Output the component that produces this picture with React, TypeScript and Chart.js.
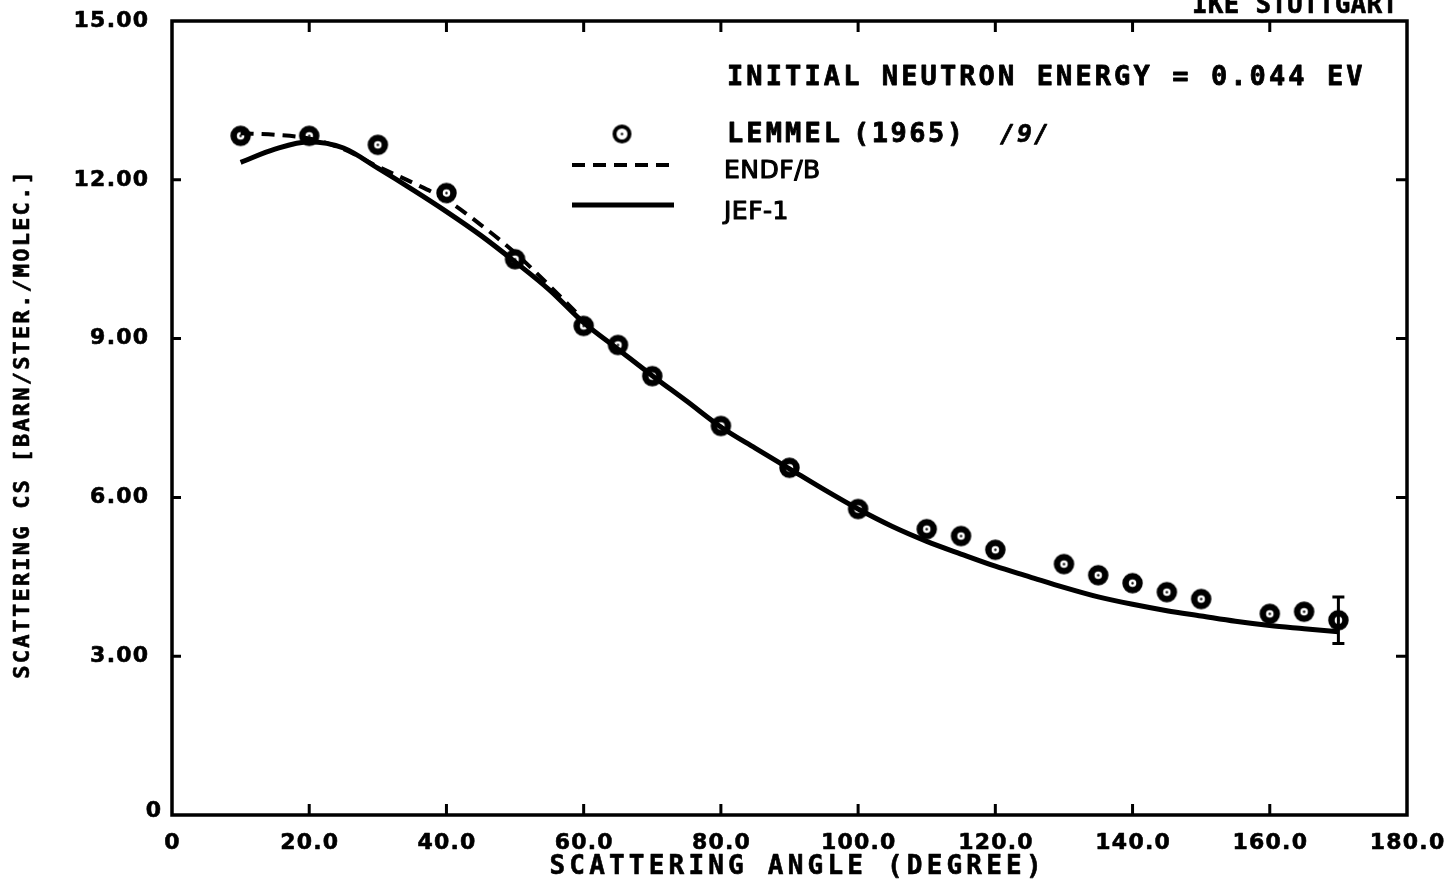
import { useEffect, useRef } from "react";
import { Chart, registerables } from "chart.js";

Chart.register(...registerables);

// Measured differential scattering cross section (Lemmel 1965)
const lemmelAngle = [10, 20, 30, 40, 50, 60, 65, 70, 80, 90, 100, 110, 115, 120, 130, 135, 140, 145, 150, 160, 165, 170];
const lemmelCs = [12.83, 12.83, 12.66, 11.75, 10.5, 9.24, 8.88, 8.29, 7.35, 6.56, 5.78, 5.4, 5.27, 5.01, 4.74, 4.53, 4.38, 4.21, 4.08, 3.8, 3.84, 3.68];
const lemmelErr = [0, 0, 0, 0, 0, 0, 0, 0, 0, 0, 0, 0, 0, 0, 0, 0, 0, 0, 0, 0, 0, 0.44];

// ENDF/B evaluation (forward angles, where it separates from JEF-1)
const endfAngle = [10, 15, 20, 25, 30, 35, 40, 45, 50, 55, 60];
const endfCs = [12.88, 12.85, 12.78, 12.58, 12.25, 11.95, 11.62, 11.15, 10.62, 10.0, 9.35];

// JEF-1 evaluation
const jefAngle = [10, 15, 20, 25, 30, 35, 40, 45, 50, 55, 60, 65, 70, 75, 80, 85, 90, 95, 100, 105, 110, 115, 120, 125, 130, 135, 140, 145, 150, 155, 160, 165, 170];
const jefCs = [12.33, 12.58, 12.72, 12.6, 12.22, 11.82, 11.4, 10.95, 10.45, 9.92, 9.3, 8.8, 8.3, 7.82, 7.33, 6.93, 6.54, 6.15, 5.78, 5.45, 5.17, 4.93, 4.7, 4.5, 4.3, 4.12, 3.98, 3.86, 3.76, 3.66, 3.58, 3.52, 3.46];

const xTickValues = [0, 20, 40, 60, 80, 100, 120, 140, 160, 180];
const xTickLabels = ["0", "20.0", "40.0", "60.0", "80.0", "100.0", "120.0", "140.0", "160.0", "180.0"];
const yTickValues = [0, 3, 6, 9, 12, 15];
const yTickLabels = ["0", "3.00", "6.00", "9.00", "12.00", "15.00"];

const MONO = '"DejaVu Sans Mono"';
const SANS = '"DejaVu Sans"';

// Text with an optional outline stroke, giving the heavy pen look of a plotter
function drawText(
  ctx: CanvasRenderingContext2D,
  s: string,
  x: number,
  y: number,
  font: string,
  spacing: number,
  align: CanvasTextAlign = "left",
  baseline: CanvasTextBaseline = "middle",
  pen = 0
) {
  ctx.save();
  ctx.font = font;
  (ctx as any).letterSpacing = spacing + "px";
  ctx.textAlign = align;
  ctx.textBaseline = baseline;
  ctx.fillStyle = "#000";
  ctx.strokeStyle = "#000";
  ctx.lineJoin = "round";
  let dx = 0;
  if (align === "right") dx = spacing;
  if (align === "center") dx = spacing / 2;
  ctx.fillText(s, x + dx, y);
  if (pen > 0) {
    ctx.lineWidth = pen;
    ctx.strokeText(s, x + dx, y);
  }
  ctx.restore();
}

function makeMarker(r: number, lw: number): HTMLCanvasElement {
  const c = document.createElement("canvas");
  const size = Math.ceil(2 * r + lw + 2);
  c.width = size;
  c.height = size;
  const g = c.getContext("2d")!;
  const m = size / 2;
  g.beginPath();
  g.arc(m, m, r, 0, Math.PI * 2);
  g.fillStyle = "#fff";
  g.fill();
  g.lineWidth = lw;
  g.strokeStyle = "#000";
  g.stroke();
  g.beginPath();
  g.arc(m, m, 1.2, 0, Math.PI * 2);
  g.fillStyle = "#000";
  g.fill();
  return c;
}

export default function App() {
  const canvasRef = useRef<HTMLCanvasElement | null>(null);

  useEffect(() => {
    const canvas = canvasRef.current;
    if (!canvas) return;
    const marker = makeMarker(7, 6.5);
    const legendMarker = makeMarker(7.5, 4);

    const decorations = {
      id: "plotterDecor",
      afterDatasetsDraw(chart: any) {
        const ctx: CanvasRenderingContext2D = chart.ctx;
        const xs = chart.scales.x;
        const ys = chart.scales.y;
        // error bars
        ctx.save();
        ctx.strokeStyle = "#000";
        ctx.lineWidth = 3;
        lemmelErr.forEach((e, i) => {
          if (!e) return;
          const px = xs.getPixelForValue(lemmelAngle[i]);
          const top = ys.getPixelForValue(lemmelCs[i] + e);
          const bot = ys.getPixelForValue(lemmelCs[i] - e);
          ctx.beginPath();
          ctx.moveTo(px, top);
          ctx.lineTo(px, bot);
          ctx.moveTo(px - 6, top);
          ctx.lineTo(px + 6, top);
          ctx.moveTo(px - 6, bot);
          ctx.lineTo(px + 6, bot);
          ctx.stroke();
        });
        ctx.restore();
      },
      afterDraw(chart: any) {
        const ctx: CanvasRenderingContext2D = chart.ctx;
        const { left, right, top, bottom } = chart.chartArea;
        const xs = chart.scales.x;
        const ys = chart.scales.y;
        const tickLen = 11;

        // frame
        ctx.save();
        ctx.strokeStyle = "#000";
        ctx.lineWidth = 3.5;
        ctx.lineCap = "square";
        ctx.strokeRect(left, top, right - left, bottom - top);

        // inward ticks on all four sides
        ctx.lineWidth = 3;
        ctx.lineCap = "butt";
        ctx.beginPath();
        xTickValues.forEach((v) => {
          const px = xs.getPixelForValue(v);
          if (v === 0 || v === 180) return;
          ctx.moveTo(px, bottom);
          ctx.lineTo(px, bottom - tickLen);
          ctx.moveTo(px, top);
          ctx.lineTo(px, top + tickLen);
        });
        yTickValues.forEach((v) => {
          const py = ys.getPixelForValue(v);
          if (v === 0 || v === 15) return;
          ctx.moveTo(left, py);
          ctx.lineTo(left + tickLen - 2, py);
          ctx.moveTo(right, py);
          ctx.lineTo(right - tickLen, py);
        });
        ctx.stroke();
        ctx.restore();

        // tick labels
        const tickFont = `bold 22px ${SANS}`;
        xTickValues.forEach((v, i) => {
          drawText(ctx, xTickLabels[i], xs.getPixelForValue(v), bottom + 28, tickFont, 1.2, "center", "middle", 0.6);
        });
        yTickValues.forEach((v, i) => {
          const py = ys.getPixelForValue(v);
          if (v === 0) {
            drawText(ctx, yTickLabels[i], left - 11, py - 4, tickFont, 1.2, "right", "middle", 0.6);
          } else {
            drawText(ctx, yTickLabels[i], left - 24, py, tickFont, 1.2, "right", "middle", 0.6);
          }
        });

        // axis titles
        drawText(ctx, "SCATTERING ANGLE (DEGREE)", (left + right) / 2 + 6, bottom + 52, `bold 26px ${MONO}`, 4.2, "center", "middle", 0.6);
        ctx.save();
        ctx.translate(23, 425);
        ctx.rotate(-Math.PI / 2);
        drawText(ctx, "SCATTERING CS [BARN/STER./MOLEC.]", 0, 0, `bold 22px ${MONO}`, 2.2, "center", "middle", 0.6);
        ctx.restore();

        // header and annotations
        drawText(ctx, "IKE STUTTGART", 1192, 13, `bold 26px ${MONO}`, 0.2, "left", "alphabetic", 0.6);
        drawText(ctx, "INITIAL NEUTRON ENERGY = 0.044 EV", 727, 78, `bold 27px ${MONO}`, 3.1, "left", "middle", 0.8);

        // legend
        ctx.drawImage(legendMarker, 622 - legendMarker.width / 2, 134 - legendMarker.height / 2);
        drawText(ctx, "LEMMEL", 727, 135, `bold 27px ${MONO}`, 3.1, "left", "middle", 0.8);
        drawText(ctx, "(1965)", 853, 135, `bold 27px ${MONO}`, 2.5, "left", "middle", 0.8);
        drawText(ctx, "/9/", 1000, 135, `italic bold 25px ${MONO}`, 2, "left", "middle", 0.6);

        ctx.save();
        ctx.strokeStyle = "#000";
        ctx.lineWidth = 4;
        ctx.setLineDash([13, 8]);
        ctx.beginPath();
        ctx.moveTo(572, 165);
        ctx.lineTo(674, 165);
        ctx.stroke();
        ctx.setLineDash([]);
        ctx.lineWidth = 5;
        ctx.beginPath();
        ctx.moveTo(572, 205);
        ctx.lineTo(674, 205);
        ctx.stroke();
        ctx.restore();
        drawText(ctx, "ENDF/B", 724, 171, `25px ${SANS}`, 0.5, "left", "middle", 1.1);
        drawText(ctx, "JEF-1", 724, 212, `25px ${SANS}`, 0.5, "left", "middle", 1.1);
      },
    };

    const chart = new Chart(canvas, {
      type: "scatter",
      data: {
        datasets: [
          {
            label: "JEF-1",
            data: jefAngle.map((a, i) => ({ x: a, y: jefCs[i] })),
            showLine: true,
            borderColor: "#000",
            borderWidth: 5,
            pointRadius: 0,
            cubicInterpolationMode: "monotone",
            order: 0,
          },
          {
            label: "ENDF/B",
            data: endfAngle.map((a, i) => ({ x: a, y: endfCs[i] })),
            showLine: true,
            borderColor: "#000",
            borderWidth: 4,
            borderDash: [13, 8],
            pointRadius: 0,
            cubicInterpolationMode: "monotone",
            order: 1,
          },
          {
            label: "LEMMEL (1965)",
            data: lemmelAngle.map((a, i) => ({ x: a, y: lemmelCs[i] })),
            pointStyle: marker,
            pointRadius: 10,
            showLine: false,
            order: 2,
          },
        ],
      },
      options: {
        animation: false,
        responsive: false,
        layout: { padding: { top: 21, right: 40, left: 0, bottom: 0 } },
        plugins: { legend: { display: false }, tooltip: { enabled: false } },
        scales: {
          x: {
            type: "linear",
            min: 0,
            max: 180,
            grid: { display: false },
            border: { display: false },
            ticks: { display: false },
            afterBuildTicks: (s: any) => {
              s.ticks = xTickValues.map((v) => ({ value: v }));
            },
            afterFit: (s: any) => {
              s.height = 64;
            },
          },
          y: {
            type: "linear",
            min: 0,
            max: 15,
            grid: { display: false },
            border: { display: false },
            ticks: { display: false },
            afterBuildTicks: (s: any) => {
              s.ticks = yTickValues.map((v) => ({ value: v }));
            },
            afterFit: (s: any) => {
              s.width = 172;
            },
          },
        },
      },
      plugins: [decorations],
    } as any);

    return () => chart.destroy();
  }, []);

  return (
    <div style={{ position: "fixed", left: 0, top: 0, width: 1447, height: 879, background: "#fff" }}>
      <canvas ref={canvasRef} width={1447} height={879} style={{ display: "block" }} />
    </div>
  );
}
